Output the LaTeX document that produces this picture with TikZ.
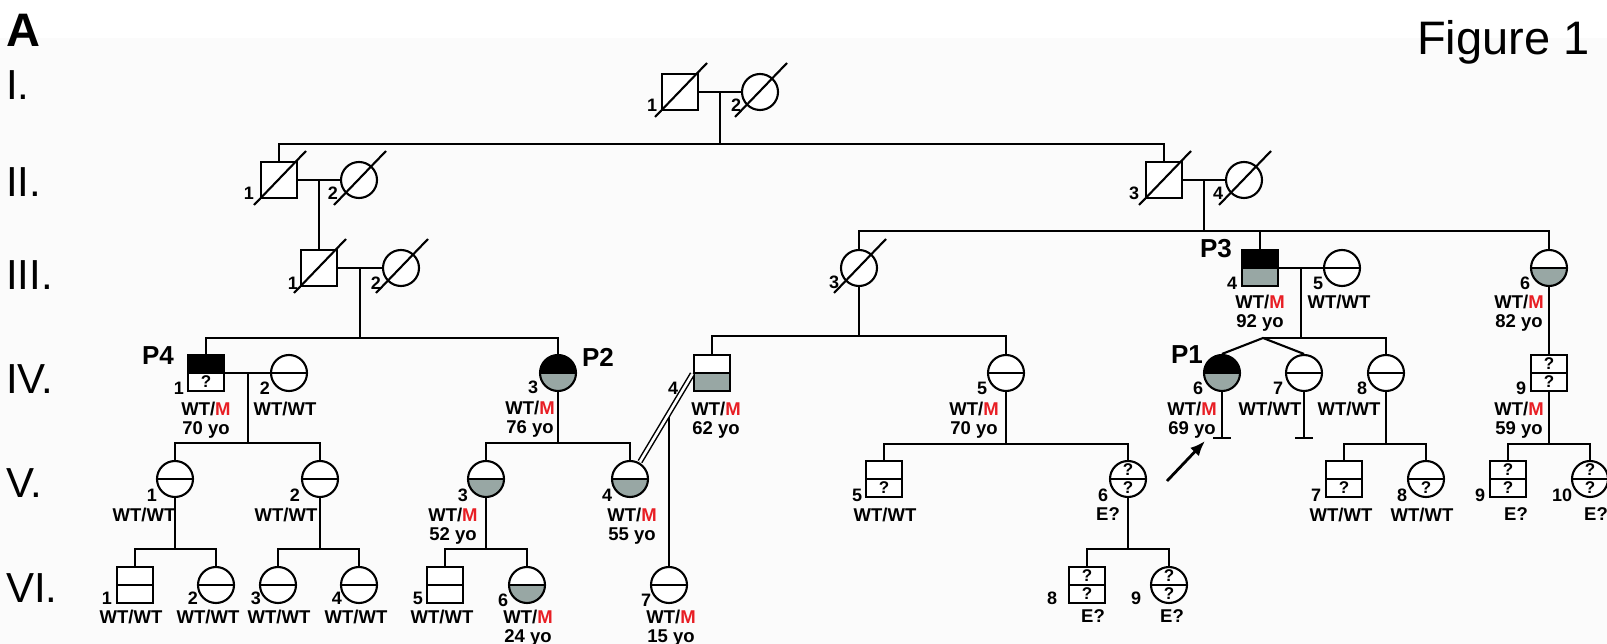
\documentclass[tikz,border=0pt]{standalone}
\usepackage{fontspec}
\setmainfont{Liberation Sans}
\usetikzlibrary{arrows.meta,calc}
\definecolor{carrier}{RGB}{152,167,164}
\definecolor{mutred}{RGB}{232,30,36}
\definecolor{panelbg}{RGB}{251,251,251}
\newcommand{\mutM}{\textcolor{mutred}{M}}
\tikzset{
  ind/.style={draw,line width=2.1pt,minimum size=36pt,inner sep=0pt,fill=white},
  male/.style={ind,rectangle},
  female/.style={ind,circle},
  qmark/.style={font=\bfseries\fontsize{17}{17}\selectfont,inner sep=0pt},
  halves/.style n args={4}{path picture={
    \fill[#1] (path picture bounding box.north west) rectangle (path picture bounding box.east);
    \fill[#2] (path picture bounding box.west) rectangle (path picture bounding box.south east);
    \draw[line width=2.1pt] (path picture bounding box.west) -- (path picture bounding box.east);
    \path (path picture bounding box.north) -- (path picture bounding box.center) node[midway,qmark] {#3};
    \path (path picture bounding box.center) -- (path picture bounding box.south) node[midway,qmark] {#4};}},
  wt/.style={halves={white}{white}{}{}},
  car/.style={halves={white}{carrier}{}{}},
  aff/.style={halves={black}{carrier}{}{}},
  affq/.style={halves={black}{white}{}{?}},
  unk/.style={halves={white}{white}{?}{?}},
  unkb/.style={halves={white}{white}{}{?}},
  num/.style={font=\bfseries\fontsize{18}{18}\selectfont,inner sep=0pt},
  geno/.style={font=\bfseries\fontsize{18.5}{19.5}\selectfont,inner sep=0pt,anchor=north,align=center},
  plab/.style={font=\bfseries\fontsize{26}{26}\selectfont,inner sep=0pt},
  genlab/.style={font=\fontsize{42}{42}\selectfont,inner sep=0pt,anchor=base west},
  big/.style={font=\fontsize{47}{47}\selectfont,inner sep=0pt,anchor=base west},
  slash/.style={line width=2.1pt},
  consang/.style={double,line width=1.5pt,double distance=2.6pt,shorten <=1pt,shorten >=1pt},
  proarr/.style={-{Latex[length=15pt,width=12pt]},line width=2.8pt}
}

\begin{document}
\begin{tikzpicture}[x=1pt,y=-1pt,line width=2.1pt]
  \useasboundingbox (0,0) rectangle (1607,644);
  \fill[panelbg] (0,38) rectangle (1607,644);

  \node[big] (panel) at (5,47) {\bfseries A};
  \node[big] (fig) at (1416,55) {Figure 1};
  \node[genlab] (gI) at (5,100) {I.};
  \node[genlab] (gII) at (5,197) {II.};
  \node[genlab] (gIII) at (5,290) {III.};
  \node[genlab] (gIV) at (5,393) {IV.};
  \node[genlab] (gV) at (5,497) {V.};
  \node[genlab] (gVI) at (5,602) {VI.};

  % generation I
  \node[male] (I1) at (680,92) {};
  \node[female] (I2) at (760,92) {};
  \node[num] (nI1) at (652,105) {1};
  \node[num] (nI2) at (736,105) {2};

  % generation II
  \node[male] (II1) at (279,180) {};
  \node[female] (II2) at (359,180) {};
  \node[male] (II3) at (1164,180) {};
  \node[female] (II4) at (1244,180) {};
  \node[num] (nII1) at (249,193) {1};
  \node[num] (nII2) at (333,193) {2};
  \node[num] (nII3) at (1134,193) {3};
  \node[num] (nII4) at (1218,193) {4};

  % generation III
  \node[male] (III1) at (319,268) {};
  \node[female] (III2) at (401,268) {};
  \node[female] (III3) at (859,268) {};
  \node[male,aff] (III4) at (1260,268) {};
  \node[female,wt] (III5) at (1342,268) {};
  \node[female,car] (III6) at (1549,268) {};
  \node[num] (nIII1) at (293,283) {1};
  \node[num] (nIII2) at (376,283) {2};
  \node[num] (nIII3) at (834,282) {3};
  \node[num] (nIII4) at (1232,283) {4};
  \node[num] (nIII5) at (1318,283) {5};
  \node[num] (nIII6) at (1525,283) {6};
  \node[geno] (gtIII4) at (1260,294) {WT/\mutM\\92 yo};
  \node[geno] (gtIII5) at (1339,294) {WT/WT};
  \node[geno] (gtIII6) at (1519,294) {WT/\mutM\\82 yo};
  \node[plab] (P3) at (1216,249) {P3};

  % generation IV
  \node[male,affq] (IV1) at (206,373) {};
  \node[female,wt] (IV2) at (289,373) {};
  \node[female,aff] (IV3) at (558,373) {};
  \node[male,car] (IV4) at (712,373) {};
  \node[female,wt] (IV5) at (1006,373) {};
  \node[female,aff] (IV6) at (1222,373) {};
  \node[female,wt] (IV7) at (1304,373) {};
  \node[female,wt] (IV8) at (1386,373) {};
  \node[male,unk] (IV9) at (1549,373) {};
  \node[num] (nIV1) at (179,388) {1};
  \node[num] (nIV2) at (265,388) {2};
  \node[num] (nIV3) at (533,387) {3};
  \node[num] (nIV4) at (673,388) {4};
  \node[num] (nIV5) at (982,388) {5};
  \node[num] (nIV6) at (1198,388) {6};
  \node[num] (nIV7) at (1278,388) {7};
  \node[num] (nIV8) at (1362,388) {8};
  \node[num] (nIV9) at (1521,388) {9};
  \node[geno] (gtIV1) at (206,401) {WT/\mutM\\70 yo};
  \node[geno] (gtIV2) at (285,401) {WT/WT};
  \node[geno] (gtIV3) at (530,400) {WT/\mutM\\76 yo};
  \node[geno] (gtIV4) at (716,401) {WT/\mutM\\62 yo};
  \node[geno] (gtIV5) at (974,401) {WT/\mutM\\70 yo};
  \node[geno] (gtIV6) at (1192,401) {WT/\mutM\\69 yo};
  \node[geno] (gtIV7) at (1270,401) {WT/WT};
  \node[geno] (gtIV8) at (1349,401) {WT/WT};
  \node[geno] (gtIV9) at (1519,401) {WT/\mutM\\59 yo};
  \node[plab] (P4) at (158,356) {P4};
  \node[plab] (P2) at (598,357) {P2};
  \node[plab] (P1) at (1187,355) {P1};

  % generation V
  \node[female,wt] (V1) at (175,479) {};
  \node[female,wt] (V2) at (320,479) {};
  \node[female,car] (V3) at (486,479) {};
  \node[female,car] (V4) at (630,479) {};
  \node[male,unkb] (V5) at (884,479) {};
  \node[female,unk] (V6) at (1128,479) {};
  \node[male,unkb] (V7) at (1344,479) {};
  \node[female,unkb] (V8) at (1426,479) {};
  \node[male,unk] (V9) at (1508,479) {};
  \node[female,unk] (V10) at (1590,479) {};
  \node[num] (nV1) at (152,495) {1};
  \node[num] (nV2) at (295,495) {2};
  \node[num] (nV3) at (463,495) {3};
  \node[num] (nV4) at (607,495) {4};
  \node[num] (nV5) at (857,495) {5};
  \node[num] (nV6) at (1103,495) {6};
  \node[num] (nV7) at (1316,495) {7};
  \node[num] (nV8) at (1402,495) {8};
  \node[num] (nV9) at (1480,495) {9};
  \node[num] (nV10) at (1562,495) {10};
  \node[geno] (gtV1) at (144,507) {WT/WT};
  \node[geno] (gtV2) at (286,507) {WT/WT};
  \node[geno] (gtV3) at (453,507) {WT/\mutM\\52 yo};
  \node[geno] (gtV4) at (632,507) {WT/\mutM\\55 yo};
  \node[geno] (gtV5) at (885,507) {WT/WT};
  \node[geno] (gtV6) at (1108,507) {E?};
  \node[geno] (gtV7) at (1341,507) {WT/WT};
  \node[geno] (gtV8) at (1422,507) {WT/WT};
  \node[geno] (gtV9) at (1516,507) {E?};
  \node[geno] (gtV10) at (1596,507) {E?};

  % generation VI
  \node[male,wt] (VI1) at (135,585) {};
  \node[female,wt] (VI2) at (216,585) {};
  \node[female,wt] (VI3) at (278,585) {};
  \node[female,wt] (VI4) at (359,585) {};
  \node[male,wt] (VI5) at (445,585) {};
  \node[female,car] (VI6) at (527,585) {};
  \node[female,wt] (VI7) at (669,585) {};
  \node[male,unk] (VI8) at (1087,585) {};
  \node[female,unk] (VI9) at (1169,585) {};
  \node[num] (nVI1) at (107,598) {1};
  \node[num] (nVI2) at (193,598) {2};
  \node[num] (nVI3) at (256,598) {3};
  \node[num] (nVI4) at (337,598) {4};
  \node[num] (nVI5) at (418,598) {5};
  \node[num] (nVI6) at (503,600) {6};
  \node[num] (nVI7) at (646,600) {7};
  \node[num] (nVI8) at (1052,598) {8};
  \node[num] (nVI9) at (1136,598) {9};
  \node[geno] (gtVI1) at (131,609) {WT/WT};
  \node[geno] (gtVI2) at (208,609) {WT/WT};
  \node[geno] (gtVI3) at (279,609) {WT/WT};
  \node[geno] (gtVI4) at (356,609) {WT/WT};
  \node[geno] (gtVI5) at (442,609) {WT/WT};
  \node[geno] (gtVI6) at (528,609) {WT/\mutM\\24 yo};
  \node[geno] (gtVI7) at (671,609) {WT/\mutM\\15 yo};
  \node[geno] (gtVI8) at (1093,609) {E?};
  \node[geno] (gtVI9) at (1172,609) {E?};

  \foreach \p in {I1,I2,II1,II2,II3,II4,III1,III2,III3}
    \draw[slash] ($(\p)+(-25,25)$) -- ($(\p)+(27,-29)$);

  % I -> II
  \coordinate (sI) at (720,144);
  \draw (I1) -- (I2);
  \draw (sI |- I1) -- (sI);
  \draw (II1.north) |- (sI) -| (II3.north);

  % II -> III
  \draw (II1) -- (II2);
  \draw (III1.north |- II1) -- (III1.north);
  \draw (II3) -- (II4);
  \coordinate (sII) at (1204,231);
  \draw (sII |- II3) -- (sII);
  \draw (III3.north) |- (sII) -| (III6.north);
  \draw (sII -| III4) -- (III4.north);

  % III -> IV
  \draw (III1) -- (III2);
  \coordinate (sIIIa) at (360,338);
  \draw (sIIIa |- III1) -- (sIIIa);
  \draw (IV1.north) |- (sIIIa) -| (IV3.north);
  \coordinate (sIIIb) at (859,336);
  \draw (III3) -- (sIIIb);
  \draw (IV4.north) |- (sIIIb) -| (IV5.north);
  \draw (III4) -- (III5);
  \coordinate (sIIIc) at (1301,338);
  \coordinate (twin) at (1263,338);
  \draw (sIIIc |- III4) -- (sIIIc);
  \draw (twin) -| (IV8.north);
  \draw (IV6.north) -- (twin) -- (IV7.north);
  \draw (III6) -- (IV9);
  \draw (IV6.south) -- ++(0,46) ++(-9,0) -- ++(18,0);
  \draw (IV7.south) -- ++(0,46) ++(-9,0) -- ++(18,0);

  % IV -> V
  \draw (IV1) -- (IV2);
  \coordinate (sIVa) at (248,443);
  \draw (sIVa |- IV1) -- (sIVa);
  \draw (V1.north) |- (sIVa) -| (V2.north);
  \coordinate (sIVb) at (558,443);
  \draw (IV3) -- (sIVb);
  \draw (V3.north) |- (sIVb) -| (V4.north);
  \coordinate (sIVc) at (1006,444);
  \draw (IV5) -- (sIVc);
  \draw (V5.north) |- (sIVc) -| (V6.north);
  \coordinate (sIVd) at (1386,444);
  \draw (IV8) -- (sIVd);
  \draw (V7.north) |- (sIVd) -| (V8.north);
  \coordinate (sIVe) at (1549,444);
  \draw (IV9) -- (sIVe);
  \draw (V9.north) |- (sIVe) -| (V10.north);

  \coordinate (cm) at ($(IV4.west)!0.45!(V4.60)$);
  \draw (cm) -- (cm |- VI7.north);
  \draw[consang] (IV4.west) -- (V4.60);

  % V -> VI
  \coordinate (sVa) at (175,549);
  \draw (V1) -- (sVa);
  \draw (VI1.north) |- (sVa) -| (VI2.north);
  \coordinate (sVb) at (320,549);
  \draw (V2) -- (sVb);
  \draw (VI3.north) |- (sVb) -| (VI4.north);
  \coordinate (sVc) at (486,549);
  \draw (V3) -- (sVc);
  \draw (VI5.north) |- (sVc) -| (VI6.north);
  \coordinate (sVd) at (1128,549);
  \draw (V6) -- (sVd);
  \draw (VI8.north) |- (sVd) -| (VI9.north);

  \coordinate (arrS) at (1167,481);
  \coordinate (arrE) at (1205,441);
  \draw[proarr] (arrS) -- (arrE);
\end{tikzpicture}
\end{document}
